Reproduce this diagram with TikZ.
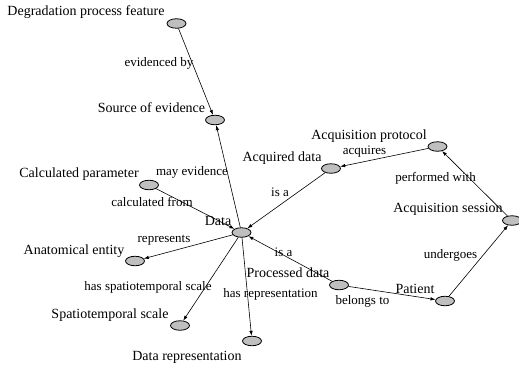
\documentclass[tikz,border=0pt]{standalone}
\usepackage{fontspec}
\setmainfont{Liberation Serif}
\usetikzlibrary{shapes.geometric,arrows.meta}
\begin{document}
\begin{tikzpicture}[x=1pt,y=-1pt,
  ent/.style={ellipse,draw=black,fill=black!25,line width=0.8pt,minimum width=19pt,minimum height=9.5pt,inner sep=0pt},
  nlab/.style={inner sep=0pt,font=\fontsize{14}{14}\selectfont},
  elab/.style={inner sep=0pt,font=\fontsize{13}{13}\selectfont},
  rel/.style={draw=black,line width=0.6pt,-{Latex[length=5pt,width=3.5pt]}}]
\useasboundingbox (0,0) rectangle (519,369);
% entities
\node[ent] (deg) at (176.5,23.5) {};
\node[ent] (src) at (215,120) {};
\node[ent] (data) at (241.5,232.5) {};
\node[ent] (calc) at (149,185) {};
\node[ent] (anat) at (135,261) {};
\node[ent] (spat) at (180,325.5) {};
\node[ent] (drep) at (252,341) {};
\node[ent] (acqd) at (331,168.5) {};
\node[ent] (acqp) at (437.5,146.5) {};
\node[ent] (acqs) at (512,220.5) {};
\node[ent] (proc) at (339,285) {};
\node[ent] (pat) at (445,301) {};
% entity labels
\node[nlab] (ldeg) at (86,12) {Degradation process feature};
\node[nlab] (lsrc) at (151.5,108) {Source of evidence};
\node[nlab] (ldata) at (218,220.5) {Data};
\node[nlab] (lcalc) at (79,174) {Calculated parameter};
\node[nlab] (lanat) at (74,251) {Anatomical entity};
\node[nlab] (lspat) at (110,315) {Spatiotemporal scale};
\node[nlab] (ldrep) at (187,357) {Data representation};
\node[nlab] (lacqd) at (282,158) {Acquired data};
\node[nlab] (lacqp) at (369,136) {Acquisition protocol};
\node[nlab] (lacqs) at (448,209.5) {Acquisition session};
\node[nlab] (lproc) at (288,273) {Processed data};
\node[nlab] (lpat) at (415,289) {Patient};
% relations
\draw[rel] (deg) -- (src);
\draw[rel] (data) -- (src);
\draw[rel] (calc) -- (data);
\draw[rel] (data) -- (anat);
\draw[rel] (data) -- (spat);
\draw[rel] (data) -- (drep);
\draw[rel] (acqd) -- (data);
\draw[rel] (acqp) -- (acqd);
\draw[rel] (acqs) -- (acqp);
\draw[rel] (pat) -- (acqs);
\draw[rel] (proc) -- (data);
\draw[rel] (proc) -- (pat);
% relation labels
\node[elab] (e1) at (159,63) {evidenced by};
\node[elab] (e2) at (192,172.5) {may evidence};
\node[elab] (e3) at (152,202) {calculated from};
\node[elab] (e4) at (164,240.5) {represents};
\node[elab] (e5) at (148,287.5) {has spatiotemporal scale};
\node[elab] (e6) at (270.5,294) {has representation};
\node[elab] (e7) at (280,192.5) {is a};
\node[elab] (e8) at (364.5,151.5) {acquires};
\node[elab] (e9) at (435.5,178) {performed with};
\node[elab] (e10) at (283.5,252.5) {is a};
\node[elab] (e11) at (362.5,301.5) {belongs to};
\node[elab] (e12) at (450.5,255.5) {undergoes};
\end{tikzpicture}
\end{document}
